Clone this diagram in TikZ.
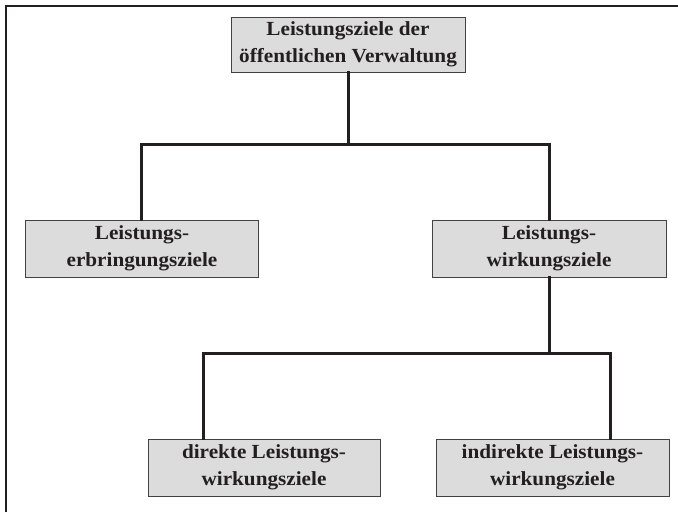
\documentclass[tikz,border=0pt]{standalone}
\usepackage{fontspec}
\setmainfont{Liberation Serif}[FakeStretch=1.06]
\definecolor{boxfill}{HTML}{DCDCDC}
\definecolor{ink}{HTML}{231F20}
\begin{document}
\begin{tikzpicture}[x=1pt,y=-1pt,
  zbox/.style={draw=ink!85, line width=0.9pt, fill=boxfill, inner sep=0pt,
    font=\fontsize{20}{27}\selectfont\bfseries, text=ink, align=center},
  conn/.style={draw=ink, line width=3pt, line cap=rect, line join=miter}]
\useasboundingbox (0,0) rectangle (678,512);
\begin{scope}
\clip (0,0) rectangle (678,512);
\draw[ink, line width=1.2pt] (6,512) -- (6,6) -- (678,6);
\end{scope}
% boxes
\node[zbox, minimum width=234, minimum height=55] (top) at (348,44.5) {Leistungsziele der\\öffentlichen Verwaltung};
\node[zbox, minimum width=233, minimum height=57] (left) at (142,248.5) {Leistungs-\\erbringungsziele};
\node[zbox, minimum width=234, minimum height=57] (right) at (549,248.5) {Leistungs-\\wirkungsziele};
\node[zbox, minimum width=232, minimum height=57] (bl) at (264,467.5) {direkte Leistungs-\\wirkungsziele};
\node[zbox, minimum width=233, minimum height=57] (br) at (552.5,467.5) {indirekte Leistungs-\\wirkungsziele};
% connector coordinates
\coordinate (j1) at (348,144);
\coordinate (j2) at (549,353);
\draw[conn] (top.south) -- (j1);
\draw[conn] (left.north -| 141,0) -- (141,144) -- (549,144) -- (right.north);
\draw[conn] (right.south) -- (j2);
\draw[conn] (bl.north -| 203,0) -- (203,353) -- (610,353) -- (br.north -| 610,0);
\end{tikzpicture}
\end{document}
